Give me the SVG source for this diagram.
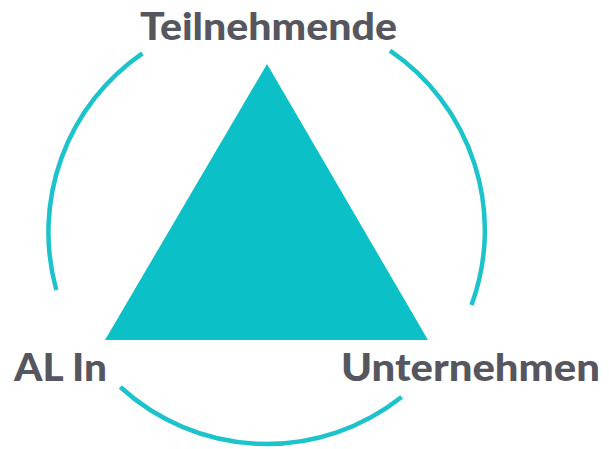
<svg xmlns="http://www.w3.org/2000/svg" width="609" height="449" viewBox="0 0 609 449">
  <style>
    .lbl { font-family: "Lato", "Liberation Sans", sans-serif; font-weight: 900; font-size: 37px; fill: #56565e; }
    .arc { fill: none; stroke: #1cc3cb; stroke-width: 4.5; stroke-linecap: butt; }
  </style>
  <rect width="609" height="449" fill="#ffffff"/>
  <g id="connectors">
    <path class="arc" d="M142.4,53.3 A217,217 0 0 0 56.3,290"/>
    <path class="arc" d="M390,50.7 A217,217 0 0 1 471.5,305"/>
    <path class="arc" d="M120.3,387 A217,217 0 0 0 401.6,397"/>
  </g>
  <g id="triangle">
    <polygon points="267,64 105,340 428,340" fill="#0bc0c7"/>
  </g>
  <g id="teilnehmende">
    <text class="lbl" x="140" y="39.5" textLength="257" lengthAdjust="spacingAndGlyphs">Teilnehmende</text>
  </g>
  <g id="al-in">
    <text class="lbl" x="14" y="381" textLength="93" lengthAdjust="spacingAndGlyphs">AL In</text>
  </g>
  <g id="unternehmen">
    <text class="lbl" x="341" y="381" textLength="259" lengthAdjust="spacingAndGlyphs">Unternehmen</text>
  </g>
</svg>
